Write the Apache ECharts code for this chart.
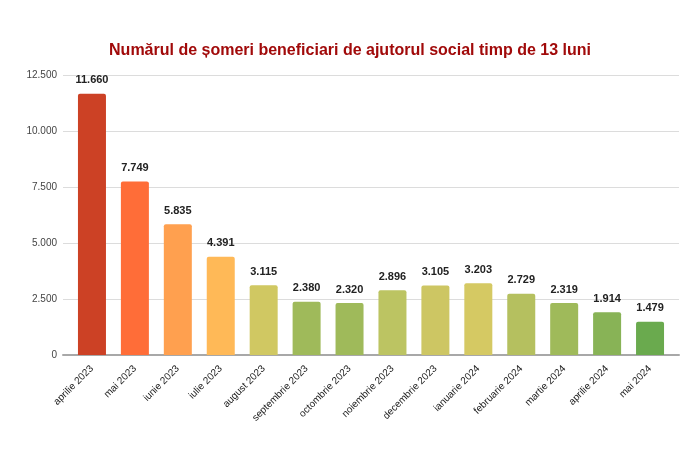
<!DOCTYPE html>
<html>
<head>
<meta charset="utf-8">
<script src="https://cdn.jsdelivr.net/npm/echarts@6/dist/echarts.min.js"></script>
<style>html,body{margin:0;padding:0;background:#fff;}#c{width:700px;height:466px;}</style>
</head>
<body>
<div id="c"></div>
<script>
const categories = ["aprilie 2023","mai 2023","iunie 2023","iulie 2023","august 2023","septembrie 2023","octombrie 2023","noiembrie 2023","decembrie 2023","ianuarie 2024","februarie 2024","martie 2024","aprilie 2024","mai 2024"];
const values = [11660, 7749, 5835, 4391, 3115, 2380, 2320, 2896, 3105, 3203, 2729, 2319, 1914, 1479];
const barColors = ["#cc4125","#ff6d38","#ffa04f","#ffb957","#d0c862","#9fba5a","#9fba5a","#bcc462","#cdc663","#d5c963","#b5c05f","#9fba5a","#88b356","#6aaa4e"];
const yTicks = [0, 2500, 5000, 7500, 10000, 12500];
const title = "Numărul de șomeri beneficiari de ajutorul social timp de 13 luni";

function fmt(v){ return String(v).replace(/\B(?=(\d{3})+(?!\d))/g, '.'); }

const chart = echarts.init(document.getElementById('c'), null, {renderer:'canvas'});
const yMin = yTicks[0], yMax = yTicks[yTicks.length-1], yInt = yTicks[1]-yTicks[0];
chart.setOption({
  animation: false,
  backgroundColor: '#fff',
  textStyle: {fontFamily: 'Liberation Sans, Arial, sans-serif'},
  title: {
    text: title, left: 'center', top: 38,
    textStyle: {fontSize: 16, fontWeight: 'bold', color: '#a10a0a', fontFamily: 'Liberation Sans, Arial, sans-serif'}
  },
  grid: [
    {left: 63, right: 21, top: 75, bottom: 111},
    {left: 70.5, right: 28.5, top: 75, bottom: 111}
  ],
  xAxis: [
    {gridIndex: 0, type: 'category', data: categories, axisLabel: {show: false}, axisTick: {show: false},
     axisLine: {show: true, lineStyle: {color: '#a8a8a8', width: 2}}},
    {gridIndex: 1, type: 'category', data: categories, axisTick: {show: false}, axisLine: {show: false},
     axisLabel: {interval: 0, rotate: 45, margin: 12, fontSize: 10, fontWeight: 'normal', color: '#222'}}
  ],
  yAxis: [
    {gridIndex: 0, type: 'value', min: yMin, max: yMax, interval: yInt,
     axisLine: {show: false}, axisTick: {show: false},
     axisLabel: {formatter: fmt, fontSize: 10, color: '#444', margin: 6},
     splitLine: {lineStyle: {color: '#dcdcdc', width: 1}}},
    {gridIndex: 1, type: 'value', min: yMin, max: yMax, interval: yInt, show: false,
     splitLine: {show: false}}
  ],
  series: [{
    type: 'bar', xAxisIndex: 1, yAxisIndex: 1, barWidth: 28,
    data: values.map((v, i) => ({value: v, itemStyle: {color: barColors[i], borderRadius: [2,2,0,0]}})),
    label: {show: true, position: 'top', distance: 8, formatter: p => fmt(p.value),
      fontSize: 11, fontWeight: 'bold', color: '#222'}
  }]
});
</script>
</body>
</html>
